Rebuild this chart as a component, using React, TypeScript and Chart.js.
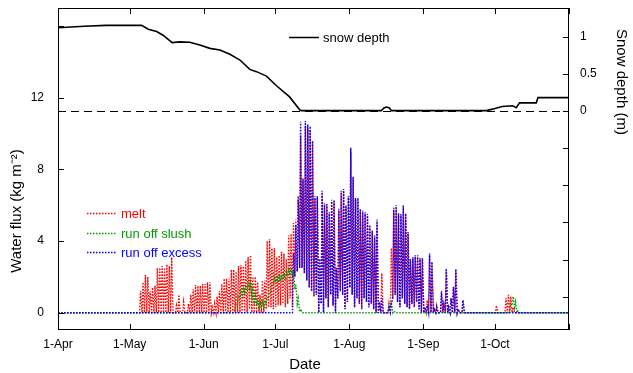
import React, { useEffect, useRef } from 'react';
import { Chart, registerables } from 'chart.js';

Chart.register(...registerables);

const FONT = '"Liberation Sans", Arial, Helvetica, sans-serif';

// x axis: days since 1 April
const monthDays = [0, 30, 61, 91, 122, 153, 183, 214];
const monthLabels = ['1-Apr', '1-May', '1-Jun', '1-Jul', '1-Aug', '1-Sep', '1-Oct', ''];
const fluxTickLabels = [0, 4, 8, 12];
const fluxTickMarks = [0, 4, 8, 12, 16];
const depthTickLabels = [0, 0.5, 1];
const depthTickMarks = [-2.5, -2, -1.5, -1, -0.5, 0, 0.5, 1];

// snow depth (m)
const snowDays = [0, 11, 20, 35, 37.8, 41.3, 44, 47.8, 51, 55.2, 59.4, 63.6, 67.8, 72, 76.2, 80.3, 83.1, 87.3, 91.5, 97, 101.3, 102, 135.4, 136.5, 137.5, 138.8, 139.6, 179.4, 182, 184.1, 186, 189.1, 190.4, 191.9, 193.3, 200.3, 201, 214];
const snowDepth = [1.12, 1.14, 1.153, 1.153, 1.10, 1.07, 1.02, 0.92, 0.93, 0.925, 0.888, 0.843, 0.82, 0.763, 0.686, 0.56, 0.53, 0.47, 0.34, 0.19, 0.013, 0.005, 0.005, 0.04, 0.054, 0.04, 0.005, 0.005, 0.025, 0.045, 0.06, 0.067, 0.07, 0.045, 0.11, 0.11, 0.18, 0.18];

// melt (kg m-2): daily peak and nightly low, starting day 34
const meltStarts = [34];
const meltHigh = [[
  1.2, 1.7, 2.1, 2.0, 1.2, 1.4, 1.5, 2.5, 2.5, 2.6,
  2.5, 2.7, 2.6, 3.1, 0, 0.4, 1.0, 0, 0.6, 0,
  0.5, 1.0, 1.3, 1.55, 1.5, 1.5, 1.6, 1.6, 1.7, 1.7,
  0.3, 0.5, 0.9, 1.2, 1.6, 1.9, 1.9, 1.9, 2.4, 2.4,
  2.3, 2.6, 2.65, 2.6, 2.9, 3.1, 3.2, 2.0, 2.0, 1.7,
  1.0, 1.8, 1.8, 4.0, 4.1, 3.6, 3.6, 3.1, 3.2, 3.4,
  3.3, 3.0, 4.3, 4.4, 5.0, 5.2, 6.3, 9.9, 7.4, 10.4,
  10.3, 10.2, 9.55, 6.4, 6.4, 3.0, 6.6, 6.0, 6.0, 5.5,
  6.2, 6.2, 2.5, 5.7, 6.7, 6.8, 5.9, 6.4, 9.0, 7.5,
  6.3, 6.3, 5.7, 5.6, 5.5, 5.4, 4.8, 4.5, 4.2, 5.0,
  0.6, 2.2, 0, 0, 0.5, 3.6, 5.7, 5.9, 5.5, 5.4,
  5.9, 5.5, 4.4, 3.0, 3.0, 3.1, 3.1, 3.0, 3.0, 0.3,
  0.7, 3.2, 2.8, 0.2, 0.4, 0, 1.1, 0.5, 2.4, 0.3,
  0.8, 1.4, 2.4, 0.2, 0, 0.7, 0, 0, 0, 0,
  0, 0, 0, 0, 0, 0, 0, 0, 0, 0.4,
  0, 0, 0, 0.8, 1.0, 0.9, 0.3, 0, 0, 0,
]];
const meltLow = [[
  0, 0, 0, 0, 0, 0, 0, 0, 0, 0,
  0, 0, 0, 0, 0, 0, 0, 0, 0, 0,
  0, 0, 0, 0, 0, 0, 0, 0, 0, 0,
  0, 0, 0, 0, 0, 0, 0, 0, 0, 0,
  0, 0, 0, 0, 0, 0, 0.2, 0, 0, 0,
  0, 0, 0, 0.2, 0.3, 0.3, 0.2, 0.3, 0.4, 0.4,
  0.5, 0.3, 0.5, 0.8, 0.3, 2.0, 2.3, 2.5, 2.5, 2.2,
  1.8, 1.4, 1.2, 0.9, 1.0, 0, 0.5, 0, 0.8, 0.3,
  1.0, 0.4, 0, 0.8, 1.2, 1.0, 0.2, 0.6, 1.4, 1.0,
  0.3, 0.8, 0.5, 0.2, 0.8, 0.6, 0.3, 0.5, 0.2, 0,
  0, 0, 0, 0, 0, 0, 0.8, 1.0, 0.6, 0.3,
  0.8, 0.5, 0.3, 0.2, 0.5, 0.3, 0.6, 0.2, 0, 0,
  0, 0, 0, 0, 0, 0, 0, 0, 0, 0,
  0, 0, 0, 0, 0, 0, 0, 0, 0, 0,
  0, 0, 0, 0, 0, 0, 0, 0, 0, 0,
  0, 0, 0, 0, 0, 0, 0, 0, 0, 0,
]];

// run off slush
const slushStarts = [73, 138, 189];
const slushHigh = [
  [0.1, 0.5, 0.9, 1.2, 1.35, 1.45, 1.65, 1.7, 1.25, 0.95, 0.75, 0.65, 0.6, 0.6, 0.85, 1.15, 1.55, 1.95, 2.05, 2.05, 2.1, 2.2, 2.3, 2.4, 2.45, 2.35, 1.6, 0.8, 0.2, 0],
  [0.3, 0.6, 0.1],
  [0.5, 0.9, 0.6, 0.1],
];
const slushLow = [
  [0, 0.2, 0.5, 0.85, 1.0, 1.1, 1.3, 1.35, 0.9, 0.6, 0.4, 0.3, 0.3, 0.3, 0.5, 0.8, 1.2, 1.6, 1.7, 1.7, 1.75, 1.85, 1.95, 2.05, 2.1, 2.1, 1.3, 0.5, 0.05, 0],
  [0.1, 0.3, 0],
  [0.2, 0.5, 0.3, 0],
];

// run off excess
const excessStarts = [98];
const excessHigh = [[
  3.3, 4.9, 6.5, 10.66, 7.5, 10.7, 10.5, 10.4, 9.6, 6.5,
  6.5, 3.0, 6.8, 6.1, 6.1, 5.6, 6.3, 6.3, 2.5, 5.8,
  6.8, 6.9, 6.0, 6.5, 9.2, 7.6, 6.4, 6.4, 5.8, 5.7,
  5.6, 5.5, 4.9, 4.6, 4.3, 5.2, 0.6, 0.8, 0, 0,
  0.3, 0.5, 5.85, 6.0, 5.55, 5.5, 6.0, 5.55, 4.5, 3.0,
  3.1, 3.2, 3.2, 3.05, 3.05, 0.3, 0.4, 3.3, 2.85, 0.2,
  0.3, 0, 1.2, 0.5, 2.45, 0.3, 0.8, 1.45, 2.45, 0.2,
  0, 0.7, 0,
]];
const excessLow = [[
  0, 2.0, 2.3, 2.5, 2.5, 2.2, 1.8, 1.4, 1.2, 0.9,
  1.0, 0, 0.5, 0, 0.8, 0.3, 1.0, 0.4, 0, 0.8,
  1.2, 1.0, 0.2, 0.6, 1.4, 1.0, 0.3, 0.8, 0.5, 0.2,
  0.8, 0.6, 0.3, 0.5, 0.2, 0, 0, 0, 0, 0,
  0, 0, 0.8, 1.0, 0.6, 0.3, 0.8, 0.5, 0.3, 0.2,
  0.5, 0.3, 0.6, 0.2, 0, 0, 0, 0, 0, 0,
  0, 0, 0, 0, 0, 0, 0, 0, 0, 0,
  0, 0, 0,
]];

const RED = 'rgb(255,0,0)';
const GREEN = 'rgb(0,155,0)';
const BLUE = 'rgb(0,0,255)';

function cyclePoints(starts: number[], highs: number[][], lows: number[][]) {
  const pts: { x: number; y: number }[] = [{ x: 0, y: 0 }];
  starts.forEach((s, k) => {
    pts.push({ x: s, y: 0 });
    highs[k].forEach((h, i) => {
      pts.push({ x: s + i + 0.2, y: lows[k][i] });
      pts.push({ x: s + i + 0.6, y: h });
    });
    pts.push({ x: s + highs[k].length + 0.2, y: 0 });
  });
  pts.push({ x: 214, y: 0 });
  return pts;
}

const decor = {
  id: 'decor',
  beforeDatasetsDraw(chart: any) {
    const { ctx, chartArea: a, scales } = chart;
    const yz = Math.round(scales.y2.getPixelForValue(0)) + 0.5;
    ctx.save();
    ctx.strokeStyle = '#000';
    ctx.lineWidth = 1;
    ctx.setLineDash([8, 5]);
    ctx.beginPath();
    ctx.moveTo(a.left, yz);
    ctx.lineTo(a.right, yz);
    ctx.stroke();
    ctx.restore();
  },
  afterDatasetsDraw(chart: any) {
    const { ctx, chartArea: a, scales } = chart;
    ctx.save();
    ctx.strokeStyle = '#000';
    ctx.lineWidth = 1;
    ctx.setLineDash([]);
    ctx.strokeRect(a.left + 0.5, a.top + 0.5, a.right - a.left - 1, a.bottom - a.top - 1);
    const T = 6;
    ctx.beginPath();
    monthDays.forEach((d) => {
      const px = Math.round(scales.x.getPixelForValue(d)) + 0.5;
      ctx.moveTo(px, a.bottom);
      ctx.lineTo(px, a.bottom - T);
      ctx.moveTo(px, a.top);
      ctx.lineTo(px, a.top + T);
    });
    fluxTickMarks.forEach((v) => {
      const py = Math.round(scales.y.getPixelForValue(v)) + 0.5;
      ctx.moveTo(a.left, py);
      ctx.lineTo(a.left + T, py);
    });
    depthTickMarks.forEach((v) => {
      const py = Math.round(scales.y2.getPixelForValue(v)) + 0.5;
      ctx.moveTo(a.right, py);
      ctx.lineTo(a.right - T, py);
    });
    ctx.stroke();

    // legend: snow depth
    ctx.lineWidth = 1.5;
    ctx.beginPath();
    ctx.moveTo(289, 37.5);
    ctx.lineTo(319, 37.5);
    ctx.stroke();
    ctx.fillStyle = '#000';
    ctx.font = `13px ${FONT}`;
    ctx.textAlign = 'left';
    ctx.textBaseline = 'alphabetic';
    ctx.fillText('snow depth', 323, 41.5);

    // legend: flux series
    const items = [
      ['melt', RED, 213],
      ['run off slush', GREEN, 233],
      ['run off excess', BLUE, 252],
    ] as const;
    items.forEach(([label, color, y]) => {
      ctx.strokeStyle = color;
      ctx.lineWidth = 1.3;
      ctx.setLineDash([1.5, 1.5]);
      ctx.beginPath();
      ctx.moveTo(87, y + 0.5);
      ctx.lineTo(117, y + 0.5);
      ctx.stroke();
      ctx.fillStyle = color;
      ctx.fillText(label, 121, y + 4.5);
    });
    ctx.setLineDash([]);

    // axis titles
    ctx.fillStyle = '#000';
    ctx.font = `15px ${FONT}`;
    ctx.textAlign = 'center';
    ctx.fillText('Date', 305, 369);

    ctx.save();
    ctx.translate(21, 211);
    ctx.rotate(-Math.PI / 2);
    ctx.fillText('Water flux (kg m\u207B\u00B2)', 0, 0);
    ctx.restore();

    ctx.save();
    ctx.translate(617, 29);
    ctx.rotate(Math.PI / 2);
    ctx.textAlign = 'left';
    ctx.fillText('Snow depth (m)', 0, 0);
    ctx.restore();

    ctx.restore();
  },
};

export default function App() {
  const ref = useRef<HTMLCanvasElement | null>(null);
  useEffect(() => {
    if (!ref.current) return;
    const tickFont = { family: FONT, size: 12 };
    const dotted = { pointRadius: 0, tension: 0, borderWidth: 1.4, borderDash: [1.5, 1.5], fill: false };
    const chart = new Chart(ref.current, {
      type: 'line',
      data: {
        datasets: [
          { label: 'run off excess', data: cyclePoints(excessStarts, excessHigh, excessLow), borderColor: BLUE, yAxisID: 'y', order: 0, ...dotted },
          { label: 'run off slush', data: cyclePoints(slushStarts, slushHigh, slushLow), borderColor: GREEN, yAxisID: 'y', order: 1, ...dotted },
          { label: 'melt', data: cyclePoints(meltStarts, meltHigh, meltLow), borderColor: RED, yAxisID: 'y', order: 2, ...dotted },
          { label: 'snow depth', data: snowDays.map((d, i) => ({ x: d, y: snowDepth[i] })), borderColor: '#000', borderWidth: 1.6, pointRadius: 0, tension: 0, yAxisID: 'y2', order: 3, fill: false },
        ],
      } as any,
      options: {
        animation: false,
        responsive: false,
        devicePixelRatio: 1,
        layout: { padding: { top: 8, left: 0, right: 0, bottom: 0 } },
        plugins: { legend: { display: false }, tooltip: { enabled: false } },
        scales: {
          x: {
            type: 'linear', position: 'bottom', min: 0, max: 214,
            afterBuildTicks: (s: any) => { s.ticks = monthDays.map((v) => ({ value: v })); },
            ticks: { callback: (_v: any, i: number) => monthLabels[i], font: tickFont, color: '#000', padding: 7, maxRotation: 0, autoSkip: false },
            grid: { display: false, drawTicks: false },
            border: { display: false },
            afterFit: (s: any) => { s.height = 43; s.paddingLeft = 0; s.paddingRight = 0; },
          },
          y: {
            position: 'left', min: -0.965, max: 17,
            afterBuildTicks: (s: any) => { s.ticks = fluxTickLabels.map((v) => ({ value: v })); },
            ticks: { callback: (v: any) => String(v), font: tickFont, color: '#000', padding: 14, autoSkip: false },
            grid: { display: false, drawTicks: false },
            border: { display: false },
            afterFit: (s: any) => { s.width = 58; s.paddingTop = 0; s.paddingBottom = 0; },
          },
          y2: {
            position: 'right', min: -2.9475, max: 1.3863,
            afterBuildTicks: (s: any) => { s.ticks = depthTickLabels.map((v) => ({ value: v })); },
            ticks: { callback: (v: any) => String(v), font: tickFont, color: '#000', padding: 11, autoSkip: false },
            grid: { display: false, drawTicks: false },
            border: { display: false },
            afterFit: (s: any) => { s.width = 64; s.paddingTop = 0; s.paddingBottom = 0; },
          },
        },
      } as any,
      plugins: [decor],
    });
    return () => chart.destroy();
  }, []);
  return (
    <div style={{ position: 'absolute', left: 0, top: 0, width: 633, height: 373, background: '#fff' }}>
      <canvas ref={ref} width={633} height={373} style={{ display: 'block' }} />
    </div>
  );
}
